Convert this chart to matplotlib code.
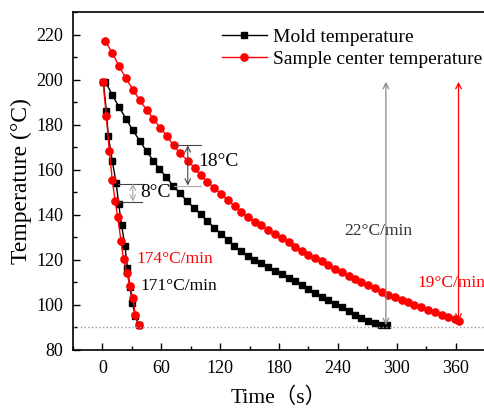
import matplotlib
matplotlib.use("Agg")
import matplotlib.pyplot as plt
from matplotlib.ticker import MultipleLocator

plt.rcParams["font.family"] = ["Liberation Serif", "Noto Sans CJK SC", "DejaVu Sans"]

# fast cooling (left steep curves)
mold_fast_t = [1, 4, 6, 10, 14, 16.5, 19.5, 23, 25.5, 28, 30.5, 33.5, 37]
mold_fast_T = [199, 186, 175, 164, 154, 145, 135.5, 126, 116.5, 108, 101, 95, 91]
sample_fast_t = [0.7, 4, 7, 10, 13, 15.5, 19, 21.5, 25, 28, 31, 33.5, 37]
sample_fast_T = [199, 183.7, 168.4, 155.6, 146, 139.2, 128.3, 120.3, 114, 108.4, 103, 95.6, 91.2]

# slow cooling
mold_slow_t = [3, 10, 17, 24, 31, 38, 45, 52, 58, 65,
               72, 79, 86, 93, 100, 107, 114, 121, 128, 134,
               141, 148, 155, 162, 169, 176, 183, 190, 196, 203,
               210, 217, 224, 230, 237, 244, 251, 257, 264, 271,
               278, 284, 290]
mold_slow_T = [199, 193.3, 187.7, 182.7, 177.5, 172.9, 168.1, 164, 160.4, 156.7,
               153, 149.6, 146.2, 143.2, 140.2, 137.2, 134.3, 131.3, 128.9, 126.2,
               123.9, 121.9, 120.1, 118.4, 116.9, 115.2, 113.8, 111.9, 110.4, 108.9,
               107, 105.2, 103.7, 102.2, 100.4, 99, 97.3, 95.6, 94.1, 93,
               91.8, 91.2, 91.1]
sample_slow_t = [3, 10, 17, 24, 31, 38, 45, 52, 59, 66,
                 72.5, 79, 87, 94, 100, 107, 114, 121, 128, 135,
                 141, 148, 156, 162, 169, 176, 183, 190, 196, 203,
                 210, 217, 224, 230, 237, 244, 251, 257, 264, 271,
                 278, 285, 291, 298, 305, 312, 318, 325, 332, 339,
                 346, 352, 359, 364]
sample_slow_T = [217, 211.9, 205.9, 200.6, 195.6, 190.8, 186.7, 182.5, 178.5, 174.8,
                 170.8, 167.4, 164, 160.8, 157.5, 154.7, 151.9, 149.2, 146.5, 143.7,
                 141.3, 139.1, 137, 135.3, 133.3, 131.4, 129.6, 127.9, 125.9, 124.1,
                 122.2, 120.7, 119.3, 117.5, 116, 114.5, 113, 111.6, 110.2, 108.9,
                 107.4, 105.9, 104.4, 103.4, 102.2, 101.2, 100, 99, 97.8, 96.8,
                 95.6, 94.5, 93.6, 92.9]

fig = plt.figure(figsize=(4.85, 4.08), dpi=100)
ax = fig.add_axes([73 / 485, 1 - 350 / 408, 412 / 485, 338 / 408])

blk = dict(color="black", marker="s", markersize=4.5, lw=1)
red = dict(color="red", marker="o", markersize=5.2, lw=1)

ax.plot(mold_slow_t, mold_slow_T, label="Mold temperature", **blk)
ax.plot(sample_slow_t, sample_slow_T, label="Sample center temperature", **red)
ax.plot(mold_fast_t, mold_fast_T, **blk)
ax.plot(sample_fast_t, sample_fast_T, **red)

ax.axhline(90, color="#999999", ls=":", lw=1)

# 18 C gap
ax.plot([72, 100], [170.8, 170.8], color="#444444", lw=0.8)
ax.plot([73, 100], [153, 153], color="#aaaaaa", lw=0.8)
ax.annotate("", xy=(87, 153), xytext=(87, 170.8),
            arrowprops=dict(arrowstyle="<->", color="#444444", lw=0.8, shrinkA=0, shrinkB=0))
ax.text(97.5, 163.5, "18°C", fontsize=14, va="center")

# 8 C gap
ax.plot([16, 42], [153.8, 153.8], color="#444444", lw=0.8)
ax.plot([15, 40], [145.9, 145.9], color="#444444", lw=0.8)
ax.annotate("", xy=(31, 145.9), xytext=(31, 153.8),
            arrowprops=dict(arrowstyle="<->", color="#aaaaaa", lw=0.8, shrinkA=0, shrinkB=0))
ax.text(38.5, 150, "8°C", fontsize=14, va="center")

# cooling rate arrows
ax.annotate("", xy=(289, 91), xytext=(289, 199),
            arrowprops=dict(arrowstyle="<->", color="#888888", lw=0.9, shrinkA=0, shrinkB=0))
ax.annotate("", xy=(363, 93), xytext=(363, 199),
            arrowprops=dict(arrowstyle="<->", color="red", lw=0.9, shrinkA=0, shrinkB=0))
ax.text(281, 133, "22°C/min", fontsize=12.5, color="#333333", va="center", ha="center")
ax.text(321, 109.8, "19°C/min", fontsize=12.5, color="red", va="center")
ax.text(34.5, 120.5, "174°C/min", fontsize=12.5, color="red", va="center")
ax.text(38.5, 108.5, "171°C/min", fontsize=12.5, color="black", va="center")

ax.set_xlim(-30, 390)
ax.set_ylim(80, 230)
ax.xaxis.set_minor_locator(MultipleLocator(30))
ax.yaxis.set_major_locator(MultipleLocator(20))
ax.yaxis.set_minor_locator(MultipleLocator(10))
ax.set_xticks([0, 60, 120, 180, 240, 300, 360])
ax.tick_params(which="both", direction="in", labelsize=13, width=1)
ax.tick_params(which="major", length=5)
ax.tick_params(which="minor", length=3)
ax.tick_params(axis="y", pad=7)
ax.tick_params(axis="x", pad=7)
ax.spines["right"].set_visible(False)
for s in ["left", "top", "bottom"]:
    ax.spines[s].set_linewidth(1.2)

ax.set_xlabel("Time（s）", fontsize=15.5, labelpad=8)
ax.set_ylabel("Temperature (°C)", fontsize=17, labelpad=3)

ax.legend(loc="upper left", bbox_to_anchor=(222 / 485, 1 - 28 / 408),
          bbox_transform=fig.transFigure, frameon=False, fontsize=14,
          handlelength=2.3, handletextpad=0.3, labelspacing=0.25,
          borderpad=0, borderaxespad=0)

fig.savefig("out.png", dpi=100)
